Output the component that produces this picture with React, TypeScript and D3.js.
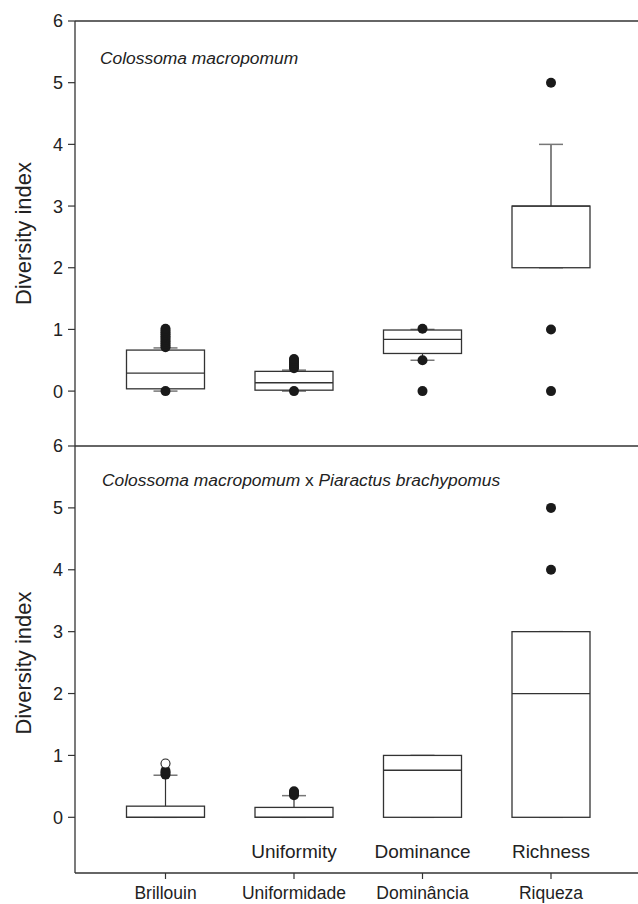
import React from "react";
import * as d3 from "d3";

const categories = ["Brillouin", "Uniformidade", "Dominância", "Riqueza"];
const innerLabels = ["", "Uniformity", "Dominance", "Richness"];
const yTicks = [0, 1, 2, 3, 4, 5, 6];

// Panel 1: Colossoma macropomum
const p1Q1 = [0.037, 0.015, 0.61, 2];
const p1Median = [0.29, 0.135, 0.84, 3];
const p1Q3 = [0.665, 0.32, 0.99, 3];
const p1WhiskerLow = [0, 0, 0.5, 2];
const p1WhiskerHigh = [0.7, 0.34, 1.0, 4];
const p1Outliers = [
  [0, 0.71, 0.74, 0.77, 0.8, 0.83, 0.86, 0.89, 0.92, 0.95, 0.98, 1.01],
  [0, 0.37, 0.4, 0.43, 0.46, 0.49, 0.52],
  [0, 0.5, 1.01],
  [0, 1, 5],
];
const p1Open: number[][] = [[], [], [], []];

// Panel 2: Colossoma macropomum x Piaractus brachypomus
const p2Q1 = [0, 0, 0, 0];
const p2Median = [0, 0, 0.76, 2];
const p2Q3 = [0.18, 0.16, 1.0, 3];
const p2WhiskerLow = [0, 0, 0, 0];
const p2WhiskerHigh = [0.68, 0.35, 1.0, 3];
const p2Outliers = [[0.69, 0.72, 0.75], [0.355, 0.38, 0.4, 0.42], [], [4, 5]];
const p2Open = [[0.87], [], [], []];

const FONT = "'Liberation Sans', Arial, Helvetica, sans-serif";
const W = 638;
const H = 904;
const axisX = 75;
const boxW = 78;
const capW = 24;
const lineColor = "#333";
const capColor = "#777";

const x = d3.scalePoint<string>().domain(categories).range([165.5, 551]);

type Panel = {
  y: d3.ScaleLinear<number, number>;
  q1: number[];
  med: number[];
  q3: number[];
  wl: number[];
  wh: number[];
  out: number[][];
  open: number[][];
};

const panels: Panel[] = [
  {
    y: d3.scaleLinear().domain([-0.89, 6]).range([446, 21]),
    q1: p1Q1, med: p1Median, q3: p1Q3, wl: p1WhiskerLow, wh: p1WhiskerHigh, out: p1Outliers, open: p1Open,
  },
  {
    y: d3.scaleLinear().domain([-0.9, 6]).range([873, 446]),
    q1: p2Q1, med: p2Median, q3: p2Q3, wl: p2WhiskerLow, wh: p2WhiskerHigh, out: p2Outliers, open: p2Open,
  },
];

function PanelMarks({ p }: { p: Panel }) {
  const y = p.y;
  return (
    <g>
      {categories.map((c, i) => {
        const cx = x(c) as number;
        return (
          <g key={c}>
            <line x1={cx} x2={cx} y1={y(p.q3[i])} y2={y(p.wh[i])} stroke={lineColor} strokeWidth={1.2} />
            <line x1={cx} x2={cx} y1={y(p.q1[i])} y2={y(p.wl[i])} stroke={lineColor} strokeWidth={1.2} />
            <line x1={cx - capW / 2} x2={cx + capW / 2} y1={y(p.wh[i])} y2={y(p.wh[i])} stroke={capColor} strokeWidth={1.5} />
            <line x1={cx - capW / 2} x2={cx + capW / 2} y1={y(p.wl[i])} y2={y(p.wl[i])} stroke={capColor} strokeWidth={1.5} />
            <rect
              x={cx - boxW / 2}
              y={y(p.q3[i])}
              width={boxW}
              height={Math.max(0, y(p.q1[i]) - y(p.q3[i]))}
              fill="white"
              stroke={lineColor}
              strokeWidth={1.3}
            />
            <line x1={cx - boxW / 2} x2={cx + boxW / 2} y1={y(p.med[i])} y2={y(p.med[i])} stroke={lineColor} strokeWidth={1.3} />
            {p.out[i].map((v, k) => (
              <circle key={"o" + k} cx={cx} cy={y(v)} r={5} fill="#1a1a1a" />
            ))}
            {p.open[i].map((v, k) => (
              <circle key={"p" + k} cx={cx} cy={y(v)} r={4.5} fill="white" stroke="#222" strokeWidth={1.1} />
            ))}
          </g>
        );
      })}
    </g>
  );
}

export default function App() {
  return (
    <svg
      width={W}
      height={H}
      viewBox={`0 0 ${W} ${H}`}
      style={{ position: "absolute", left: 0, top: 0, background: "white" }}
    >
      <rect x={0} y={0} width={W} height={H} fill="white" />
      {panels.map((p, pi) => (
        <PanelMarks key={pi} p={p} />
      ))}

      <line x1={axisX} x2={W} y1={21} y2={21} stroke={lineColor} strokeWidth={1.3} />
      <line x1={axisX} x2={W} y1={446} y2={446} stroke={lineColor} strokeWidth={1.3} />
      <line x1={axisX} x2={W} y1={873} y2={873} stroke={lineColor} strokeWidth={1.3} />
      <line x1={axisX} x2={axisX} y1={21} y2={873} stroke={lineColor} strokeWidth={1.3} />

      {panels.map((p, pi) => (
        <g key={"t" + pi}>
          {yTicks.map((t) => (
            <g key={t}>
              <line x1={axisX - 7} x2={axisX} y1={p.y(t)} y2={p.y(t)} stroke={lineColor} strokeWidth={1.2} />
              <text
                x={63}
                y={p.y(t)}
                dy="0.36em"
                textAnchor="end"
                fontFamily={FONT}
                fontSize={18}
                fill="#222"
              >
                {t}
              </text>
            </g>
          ))}
        </g>
      ))}

      {[233.5, 663].map((cy, i) => (
        <text
          key={"yt" + i}
          transform={`translate(31,${cy}) rotate(-90)`}
          textAnchor="middle"
          fontFamily={FONT}
          fontSize={22}
          fill="#222"
        >
          Diversity index
        </text>
      ))}

      <text x={100} y={64} fontFamily={FONT} fontSize={17.4} fontStyle="italic" fill="#222">
        Colossoma macropomum
      </text>
      <text x={102} y={486} fontFamily={FONT} fontSize={17.4} fill="#222">
        <tspan fontStyle="italic">Colossoma macropomum</tspan>
        <tspan> x </tspan>
        <tspan fontStyle="italic">Piaractus brachypomus</tspan>
      </text>

      {categories.map((c, i) => {
        const cx = x(c) as number;
        return (
          <g key={"x" + c}>
            <line x1={cx} x2={cx} y1={873} y2={879} stroke={lineColor} strokeWidth={1.2} />
            <text x={cx} y={899} textAnchor="middle" fontFamily={FONT} fontSize={17.5} fill="#222">
              {c}
            </text>
            {innerLabels[i] && (
              <text x={cx} y={858} textAnchor="middle" fontFamily={FONT} fontSize={19} fill="#222">
                {innerLabels[i]}
              </text>
            )}
          </g>
        );
      })}
    </svg>
  );
}
